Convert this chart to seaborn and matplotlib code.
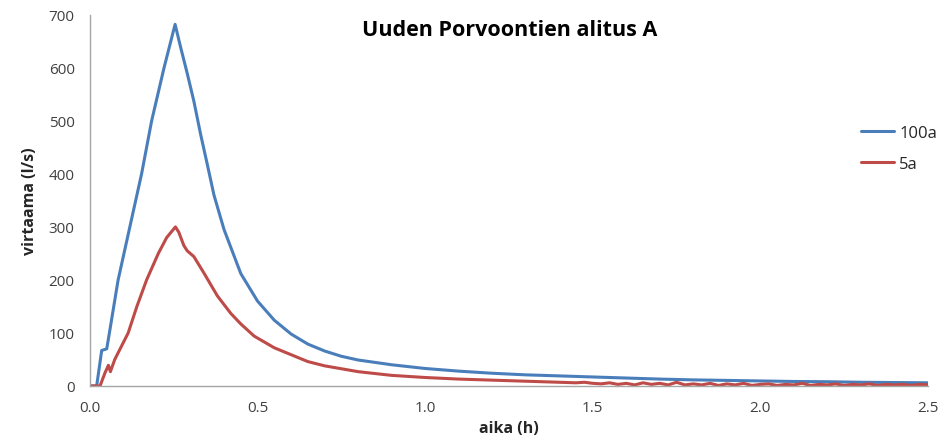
import matplotlib
matplotlib.use("Agg")
import matplotlib.pyplot as plt
import seaborn as sns
import pandas as pd

# Discharge hydrographs for the culvert, two return periods
t_100a = [0, 0.02, 0.035, 0.05, 0.058, 0.084, 0.119, 0.154, 0.184, 0.221, 0.254,
          0.27, 0.29, 0.31, 0.33, 0.35, 0.37, 0.4, 0.45, 0.5, 0.55, 0.6, 0.65,
          0.7, 0.75, 0.8, 0.9, 1.0, 1.1, 1.2, 1.3, 1.4, 1.5, 1.6, 1.7, 1.8,
          1.9, 2.0, 2.1, 2.2, 2.3, 2.4, 2.5]
q_100a = [0, 0, 67, 70, 100, 200, 300, 400, 500, 600, 682,
          640, 590, 537, 475, 418, 360, 295, 212, 160, 124, 98, 79,
          66, 56, 49, 40, 33, 28, 24, 21, 19, 17, 15, 13, 11.5,
          10.5, 9.5, 8.5, 8, 7, 6.5, 6]

t_5a = [0, 0.03, 0.045, 0.055, 0.061, 0.074, 0.09, 0.114, 0.14, 0.169, 0.204,
        0.229, 0.255, 0.265, 0.28, 0.29, 0.31, 0.34, 0.38, 0.42, 0.45, 0.49,
        0.55, 0.6, 0.65, 0.7, 0.8, 0.9, 1.0, 1.1, 1.2, 1.3, 1.4, 1.45, 1.475,
        1.5, 1.525, 1.55, 1.575, 1.6, 1.625, 1.65, 1.675, 1.7, 1.725, 1.75,
        1.775, 1.8, 1.825, 1.85, 1.875, 1.9, 1.925, 1.95, 1.975, 2.0, 2.025,
        2.05, 2.075, 2.1, 2.125, 2.15, 2.175, 2.2, 2.225, 2.25, 2.275, 2.3,
        2.325, 2.35, 2.375, 2.4, 2.425, 2.45, 2.475, 2.5]
q_5a = [0, 0, 25, 39, 27, 50, 70, 100, 150, 200, 250,
        280, 300, 290, 265, 255, 244, 213, 170, 137, 117, 94,
        72, 59, 46, 38, 27, 20, 16, 13, 11, 9, 7, 6, 7,
        5, 4, 6, 3, 5, 2, 6, 3, 5, 2, 7,
        2, 4, 2, 5, 1, 4, 2, 5, 1, 3, 4,
        1, 3, 2, 5, 1, 3, 2, 4, 1, 3, 2,
        4, 1, 3, 2, 3, 1, 3, 2]

series_names = ["100a", "5a"]
series_colors = ["#4A7EBB", "#BE4B48"]

df = pd.concat([
    pd.DataFrame({"aika": t_100a, "virtaama": q_100a, "sarja": "100a"}),
    pd.DataFrame({"aika": t_5a, "virtaama": q_5a, "sarja": "5a"}),
], ignore_index=True)

sns.set_style("white")
plt.rcParams["font.family"] = ["Open Sans", "DejaVu Sans"]

fig = plt.figure(figsize=(9.43, 4.39), dpi=100)
ax = fig.add_axes([0.0954, 0.1185, 0.8886, 0.8455])

sns.lineplot(data=df, x="aika", y="virtaama", hue="sarja",
             hue_order=series_names, palette=series_colors,
             estimator=None, sort=False, linewidth=2.2, ax=ax)

ax.set_xlim(0, 2.5)
ax.set_ylim(0, 700)
ax.set_xticks([0, 0.5, 1.0, 1.5, 2.0, 2.5])
ax.set_xticklabels(["0.0", "0.5", "1.0", "1.5", "2.0", "2.5"])
ax.set_yticks(range(0, 701, 100))

for side in ["top", "right"]:
    ax.spines[side].set_visible(False)
for side in ["left", "bottom"]:
    ax.spines[side].set_color("#A6A6A6")
    ax.spines[side].set_linewidth(1.0)

ax.tick_params(axis="both", which="major", direction="out", length=5,
               width=1.0, color="#A6A6A6", labelsize=11, labelcolor="#404040")
ax.tick_params(axis="x", pad=5)
ax.tick_params(axis="y", pad=6)

ax.set_xlabel("aika (h)", fontsize=11.5, fontweight="bold", color="#262626", labelpad=4)
ax.set_ylabel("virtaama (l/s)", fontsize=11.5, fontweight="bold", color="#262626", labelpad=8)

fig.text(0.541, 0.93, "Uuden Porvoontien alitus A", ha="center", va="center",
         fontsize=15.5, fontweight="bold", color="#000000")

leg = ax.legend(loc="center left", bbox_to_anchor=(0.897, 0.66),
                bbox_transform=fig.transFigure, frameon=False, fontsize=12,
                handlelength=2.0, handletextpad=0.3, labelspacing=0.9)
for txt in leg.get_texts():
    txt.set_color("#262626")

fig.savefig("out.png", dpi=100)
